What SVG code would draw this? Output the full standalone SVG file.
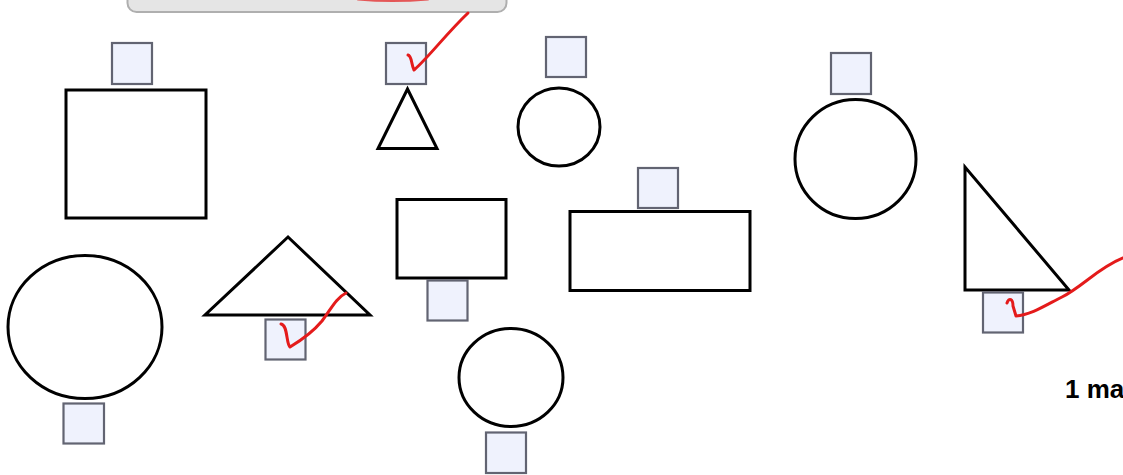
<svg xmlns="http://www.w3.org/2000/svg" width="1123" height="475" viewBox="0 0 1123 475">
  <style>
    .shape { fill: #ffffff; stroke: #000000; stroke-width: 3; stroke-linejoin: miter; }
    .chk { fill: #eff2fd; stroke: #626472; stroke-width: 2.2; }
    .ink { fill: none; stroke: #e41b1b; stroke-width: 3; stroke-linecap: round; stroke-linejoin: round; }
    .lbl { font-family: "Liberation Sans", Arial, sans-serif; font-weight: bold; font-size: 26px; fill: #000000; }
  </style>
  <rect width="1123" height="475" fill="#ffffff"/>

  <g id="toolbar">
    <rect x="127.5" y="-40" width="379" height="52" rx="9" ry="9" fill="#e5e5e5" stroke="#afafaf" stroke-width="2"/>
    <path class="ink" d="M358,-1 Q392,2 428,-1" opacity="0.7"/>
  </g>

  <g id="node-square">
    <rect class="shape" x="66" y="90" width="140" height="128"/>
    <rect class="chk" x="112" y="43" width="40" height="41"/>
  </g>

  <g id="node-small-triangle">
    <polygon class="shape" points="407.5,89 378,148.5 437,148.5"/>
    <rect class="chk" x="386" y="43" width="40" height="41"/>
  </g>

  <g id="node-small-circle">
    <ellipse class="shape" cx="559" cy="127" rx="41" ry="39"/>
    <rect class="chk" x="546" y="37" width="40" height="40"/>
  </g>

  <g id="node-large-circle">
    <ellipse class="shape" cx="855.5" cy="159" rx="60.5" ry="59.5"/>
    <rect class="chk" x="831" y="53" width="40" height="41"/>
  </g>

  <g id="node-middle-rect">
    <rect class="shape" x="397" y="199.5" width="109" height="78.5"/>
    <rect class="chk" x="427.5" y="280.5" width="40" height="40"/>
  </g>

  <g id="node-wide-rect">
    <rect class="shape" x="570" y="211.5" width="180" height="79"/>
    <rect class="chk" x="638" y="168" width="40" height="40"/>
  </g>

  <g id="node-right-triangle">
    <polygon class="shape" points="965,167 965,290 1069,290"/>
    <rect class="chk" x="983" y="292.5" width="40" height="40"/>
  </g>

  <g id="node-left-circle">
    <ellipse class="shape" cx="85" cy="327" rx="77" ry="71.5"/>
    <rect class="chk" x="63.5" y="403.5" width="40.5" height="40"/>
  </g>

  <g id="node-wide-triangle">
    <polygon class="shape" points="288,237 205,315 370,315"/>
    <rect class="chk" x="265.5" y="319.5" width="40" height="40"/>
  </g>

  <g id="node-bottom-circle">
    <ellipse class="shape" cx="511" cy="377.5" rx="52" ry="49"/>
    <rect class="chk" x="486" y="432.5" width="40" height="40.5"/>
  </g>

  <g id="connectors">
    <path class="ink" d="M408,55 C412,56 411,64 414,70 C428,58 446,34 468,13"/>
    <path class="ink" d="M281,324 C288,325 286,344 290,347 C300,341 312,333 322,321 C331,309 336,298 346,293"/>
    <path class="ink" d="M1007,303 C1009,297 1013,299 1013,306 L1016,316 C1031,315 1046,305 1062,297 C1082,287 1098,268 1123,258"/>
  </g>

  <g id="status">
    <text class="lbl" x="1065" y="398">1 ma</text>
  </g>
</svg>
